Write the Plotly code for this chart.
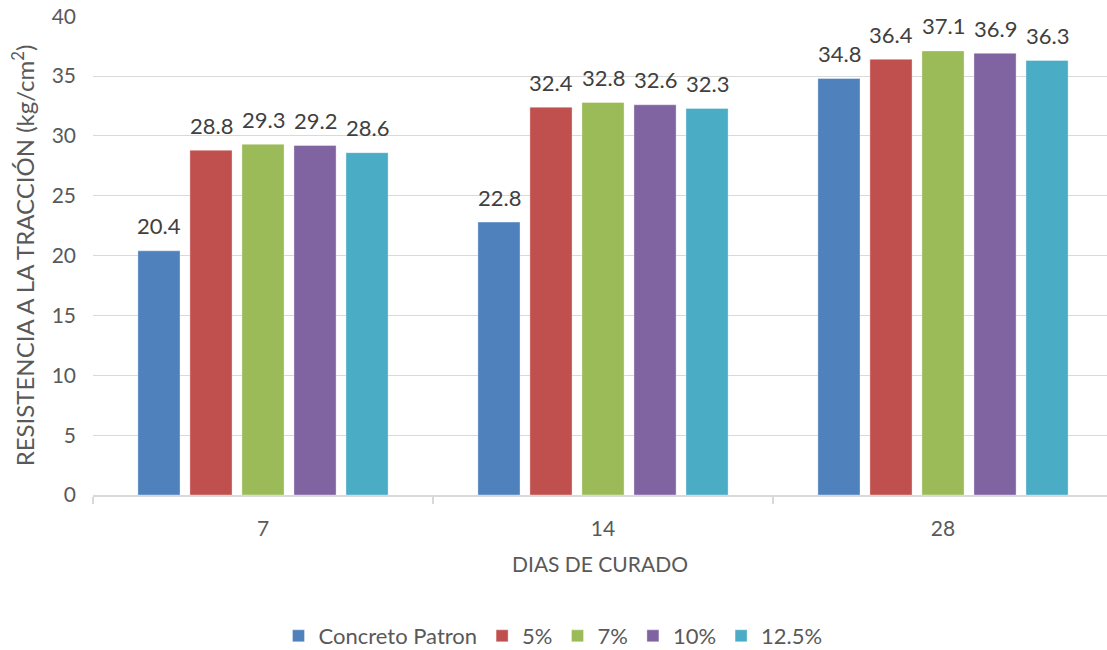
import plotly.graph_objects as go

categories = ["7", "14", "28"]
series_names = ["Concreto Patron", "5%", "7%", "10%", "12.5%"]
values_patron = [20.4, 22.8, 34.8]
values_5 = [28.8, 32.4, 36.4]
values_7 = [29.3, 32.8, 37.1]
values_10 = [29.2, 32.6, 36.9]
values_125 = [28.6, 32.3, 36.3]
y_ticks = [0, 5, 10, 15, 20, 25, 30, 35, 40]

all_values = [values_patron, values_5, values_7, values_10, values_125]
colors = ["#4F81BD", "#C0504D", "#9BBB59", "#8064A2", "#4BACC6"]

FONT = "Lato"
W, H = 1107, 650

fig = go.Figure()
for name, vals, col in zip(series_names, all_values, colors):
    fig.add_trace(go.Bar(
        x=categories, y=vals, name=name,
        marker=dict(color=col, line=dict(color="rgba(255,255,255,0.35)", width=1)),
        hoverinfo="x+y+name",
    ))

# data labels above bars
slot_px = 52
annotations = []
n = len(series_names)
for i, vals in enumerate(all_values):
    for j, v in enumerate(vals):
        annotations.append(dict(
            x=j, y=v, xref="x", yref="y", text=f"{v:.1f}",
            showarrow=False, xshift=(i - (n - 1) / 2) * slot_px,
            yanchor="middle", yshift=25,
            font=dict(family=FONT, size=22, color="#404040"),
        ))

fig.update_layout(
    width=W, height=H,
    margin=dict(l=93, r=0, t=16, b=155, autoexpand=False),
    paper_bgcolor="white", plot_bgcolor="white",
    barmode="group", bargap=0.235, bargroupgap=0.19,
    font=dict(family=FONT, color="#595959", size=21),
    showlegend=True,
    legend=dict(orientation="h", xref="container", yref="container",
                x=553 / W, xanchor="center", y=(H - 636) / H, yanchor="middle",
                font=dict(family=FONT, size=22, color="#595959")),
    annotations=annotations,
)
fig.update_xaxes(
    type="category", range=[-0.5, 2.5 - 6 / 340],
    showline=True, linecolor="#D9D9D9", linewidth=1.5,
    ticks="outside", tickson="boundaries", ticklen=7, tickcolor="#D9D9D9", tickwidth=1.5,
    ticklabelstandoff=14,
    tickfont=dict(family=FONT, size=21, color="#595959"),
    showgrid=False, zeroline=False,
    title=dict(text="DIAS DE CURADO", standoff=18,
               font=dict(family=FONT, size=21, color="#595959")),
)
fig.update_yaxes(
    range=[0, 40.02], tickvals=y_ticks, ticktext=[str(t) for t in y_ticks],
    showgrid=True, gridcolor="#D9D9D9", gridwidth=1.2,
    zeroline=False, showline=False, ticks="",
    ticklabelstandoff=16, ticklabeloverflow="allow",
    tickfont=dict(family=FONT, size=21, color="#595959"),
    title=dict(text="RESISTENCIA A LA TRACCIÓN (kg/cm<sup>2</sup>)", standoff=10,
               font=dict(family=FONT, size=24, color="#595959")),
)

fig.write_html("out.html",
               config={"displayModeBar": False},
               post_script="document.body.style.margin='0';document.body.style.overflow='hidden';")
